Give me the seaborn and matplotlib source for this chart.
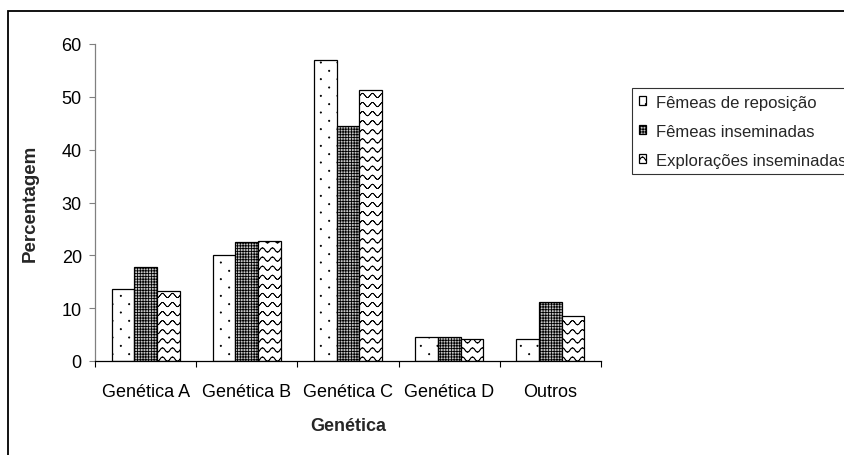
import warnings
import numpy as np
import pandas as pd
import matplotlib
matplotlib.use("Agg")
import matplotlib.pyplot as plt
import matplotlib.hatch as mhatch
from matplotlib.path import Path
from matplotlib.patches import Rectangle
import seaborn as sns

warnings.filterwarnings("ignore")

# ---- data -------------------------------------------------------------
categorias = ["Genética A", "Genética B", "Genética C", "Genética D", "Outros"]
series = ["Fêmeas de reposição", "Fêmeas inseminadas", "Explorações inseminadas"]
femeas_reposicao = [13.6, 20.0, 57.0, 4.5, 4.2]
femeas_inseminadas = [17.7, 22.5, 44.5, 4.5, 11.2]
exploracoes_inseminadas = [13.3, 22.7, 51.2, 4.2, 8.6]
y_ticks = [0, 10, 20, 30, 40, 50, 60]


# ---- custom fill textures: sparse staggered dots ('o') and waves ('O') ----
class DotHatch(mhatch.HatchPatternBase):
    def __init__(self, hatch, density):
        self.num_rows = hatch.count("o") * 12
        self.per_row = self.num_rows // 2
        circle = Path.unit_circle()
        self.cv = circle.vertices
        self.cc = circle.codes
        self.num_vertices = self.num_rows * self.per_row * len(self.cv)

    def set_vertices_and_codes(self, vertices, codes):
        r = 0.006
        n = len(self.cv)
        idx = 0
        for i in range(self.num_rows):
            y = (i + 0.5) / self.num_rows
            shift = 0.5 if i % 2 else 0.0
            for j in range(self.per_row):
                x = (j + 0.25 + shift) / self.per_row
                vertices[idx:idx + n] = self.cv * r + (x, y)
                codes[idx:idx + n] = self.cc
                idx += n


class WaveHatch(mhatch.HatchPatternBase):
    def __init__(self, hatch, density):
        self.num_rows = hatch.count("O") * 11
        self.segs = 120
        self.num_vertices = self.num_rows * self.segs * 2

    def set_vertices_and_codes(self, vertices, codes):
        xs = np.linspace(0.0, 1.0, self.segs + 1)
        periods = 10
        amp = 0.021
        for i in range(self.num_rows):
            y0 = (i + 0.5) / self.num_rows
            ys = y0 + amp * np.sin(2 * np.pi * periods * xs)
            s = i * self.segs * 2
            v = vertices[s:s + self.segs * 2]
            v[0::2, 0] = xs[:-1]
            v[0::2, 1] = ys[:-1]
            v[1::2, 0] = xs[1:]
            v[1::2, 1] = ys[1:]
            c = codes[s:s + self.segs * 2]
            c[0::2] = Path.MOVETO
            c[1::2] = Path.LINETO


mhatch._hatch_types[:] = [t for t in mhatch._hatch_types
                          if t not in (mhatch.SmallCircles, mhatch.LargeCircles)]
mhatch._hatch_types.extend([DotHatch, WaveHatch])

# ---- style ------------------------------------------------------------
sns.set_style("white")
plt.rcParams["font.family"] = ["Liberation Sans", "DejaVu Sans"]
plt.rcParams["hatch.linewidth"] = 0.6

df = pd.DataFrame({
    "Genética": categorias * 3,
    "Percentagem": femeas_reposicao + femeas_inseminadas + exploracoes_inseminadas,
    "Série": [s for s in series for _ in categorias],
})

fig = plt.figure(figsize=(8.44, 4.56), dpi=100)
ax = fig.add_axes([95 / 844, 1 - 362 / 456, 506 / 844, 317 / 456])

sns.barplot(data=df, x="Genética", y="Percentagem", hue="Série",
            order=categorias, hue_order=series, width=0.67,
            palette=["white", "#c4c4c4", "white"], saturation=1,
            edgecolor="black", linewidth=0.9, legend=False, ax=ax)

for container, hatch in zip(ax.containers, ["o", "++++++", "O"]):
    for bar in container:
        bar.set_hatch(hatch)

ax.set_xlim(-0.5, len(categorias) - 0.5)
ax.set_ylim(0, 60)
ax.set_yticks(y_ticks)
ax.set_xticks(np.arange(-0.5, len(categorias), 1.0), minor=True)

for side in ("top", "right"):
    ax.spines[side].set_visible(False)
ax.spines["left"].set_color("#808080")
ax.spines["left"].set_linewidth(0.9)
ax.spines["bottom"].set_color("black")
ax.spines["bottom"].set_linewidth(0.9)

ax.tick_params(axis="y", which="major", direction="out", length=4.5, width=0.8,
               color="#808080", labelcolor="black", labelsize=13, pad=5, left=True)
ax.tick_params(axis="x", which="major", length=0, labelsize=13, pad=16,
               labelcolor="black")
ax.tick_params(axis="x", which="minor", direction="out", length=4, width=0.8,
               color="black", bottom=True)

ax.set_xlabel("Genética", fontsize=13, fontweight="bold")
ax.set_ylabel("Percentagem", fontsize=13.5, fontweight="bold")
ax.xaxis.set_label_coords(0.5, -(418 - 362) / 317)
ax.yaxis.set_label_coords((39 - 95) / 506, 0.5)

leg = fig.legend(ax.containers, series, loc="upper left",
                 bbox_to_anchor=(632 / 844, 1 - 89 / 456),
                 bbox_transform=fig.transFigure, frameon=True, fancybox=False,
                 edgecolor="black", fontsize=12, handlelength=0.45,
                 handleheight=0.45, handletextpad=0.6, labelspacing=0.84,
                 borderpad=0.4, borderaxespad=0)
leg.get_frame().set_linewidth(0.8)
leg.get_frame().set_facecolor("white")

# outer chart frame (left and top edges fall inside the canvas)
fig.add_artist(Rectangle((8 / 844, -0.1), 1.2, 1.1 - 12 / 456,
                         transform=fig.transFigure, fill=False,
                         edgecolor="black", linewidth=1.3, clip_on=False))

fig.savefig("out.png", dpi=100)
